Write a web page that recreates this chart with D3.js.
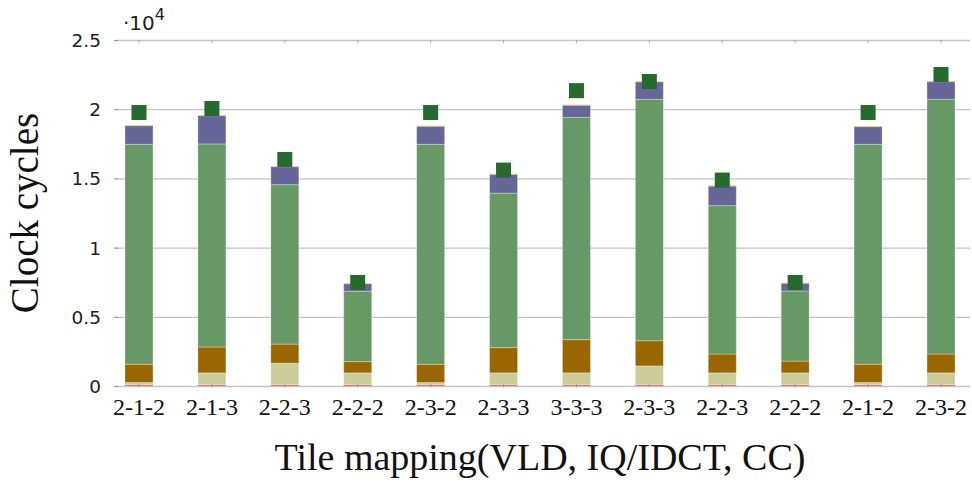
<!DOCTYPE html>
<html>
<head>
<meta charset="utf-8">
<script src="https://cdn.jsdelivr.net/npm/d3@7"></script>
<style>
  html, body { margin: 0; padding: 0; background: #fff; }
  svg { display: block; }
</style>
</head>
<body>
<svg id="chart" width="972" height="482"></svg>
<script>
// ---- data (clock cycles) ----
const categories = ["2-1-2","2-1-3","2-2-3","2-2-2","2-3-2","2-3-3","3-3-3","2-3-3","2-2-3","2-2-2","2-1-2","2-3-2"];
const seriesRed    = [100,100,100,100,100,100,100,100,100,100,100,100];
const seriesKhaki  = [150,850,1550,850,150,850,850,1350,850,850,150,850];
const seriesBrown  = [1320,1870,1380,810,1320,1820,2400,1820,1360,850,1320,1360];
const seriesGreen  = [15890,14670,11515,5090,15890,11165,16060,17445,10720,5065,15890,18405];
const seriesPurple = [1340,2040,1295,530,1300,1355,870,1250,1410,555,1275,1272];
const seriesYellow = [50,50,50,50,50,50,50,50,50,50,50,50];
const markerValues = [19760,20050,16370,7480,19760,15600,21340,22000,14880,7480,19760,22510];
const yTicks = [0, 5000, 10000, 15000, 20000, 25000];
const yTickLabels = ["0","0.5","1","1.5","2","2.5"];

const stackSeries = [
  {name:"red",    values:seriesRed,    color:"#d77a6c"},
  {name:"khaki",  values:seriesKhaki,  color:"#cccc99"},
  {name:"brown",  values:seriesBrown,  color:"#996600"},
  {name:"green",  values:seriesGreen,  color:"#669966"},
  {name:"purple", values:seriesPurple, color:"#666699"},
  {name:"yellow", values:seriesYellow, color:"#eccc55"}
];

// ---- layout ----
const svg = d3.select("#chart");
const plotLeft = 114, plotRight = 970, plotTop = 40, plotBottom = 386;

const idx = categories.map((d,i) => i);
const x = d3.scalePoint().domain(idx).range([139, 941]);
const y = d3.scaleLinear().domain([0, 25000]).range([plotBottom, plotTop]);
const barW = 28;

// grid lines
svg.append("g").selectAll("line").data(yTicks).join("line")
  .attr("x1", plotLeft).attr("x2", plotRight)
  .attr("y1", d => y(d) + 0.5).attr("y2", d => y(d) + 0.5)
  .attr("stroke", "#c4c4c4").attr("stroke-width", 1.3);

// y tick marks
svg.append("g").selectAll("line").data(yTicks).join("line")
  .attr("x1", plotLeft).attr("x2", plotLeft + 4)
  .attr("y1", d => y(d) + 0.5).attr("y2", d => y(d) + 0.5)
  .attr("stroke", "#999").attr("stroke-width", 1);

// x tick marks (top)
svg.append("g").selectAll("line").data(idx).join("line")
  .attr("x1", d => x(d)).attr("x2", d => x(d))
  .attr("y1", plotTop).attr("y2", plotTop + 3)
  .attr("stroke", "#aaa");

// stacked bars
const rows = idx.map(i => {
  const o = {i};
  stackSeries.forEach(s => o[s.name] = s.values[i]);
  return o;
});
const stack = d3.stack().keys(stackSeries.map(s => s.name));
const stacked = stack(rows);

stacked.forEach((layer, li) => {
  svg.append("g").selectAll("rect").data(layer).join("rect")
    .attr("x", d => x(d.data.i) - barW/2)
    .attr("width", barW)
    .attr("y", d => y(d[1]))
    .attr("height", d => Math.max(0, y(d[0]) - y(d[1])))
    .attr("fill", stackSeries[li].color)
    .attr("stroke", (stackSeries[li].name === "yellow" || stackSeries[li].name === "red") ? "none" : "rgba(255,255,255,0.3)")
    .attr("stroke-width", 1);
});

// markers
const ms = 15;
svg.append("g").selectAll("rect").data(idx).join("rect")
  .attr("x", i => x(i) - ms/2)
  .attr("y", i => y(markerValues[i]) - ms/2)
  .attr("width", ms).attr("height", ms)
  .attr("fill", "#266a2e");

// bottom x tick marks
svg.append("g").selectAll("line").data(idx).join("line")
  .attr("x1", d => x(d)).attr("x2", d => x(d))
  .attr("y1", plotBottom - 2).attr("y2", plotBottom + 1)
  .attr("stroke", "#999");

// y tick labels
svg.append("g").selectAll("text").data(yTicks).join("text")
  .attr("x", 101).attr("y", d => y(d) + 7)
  .attr("text-anchor", "end")
  .attr("font-family", "'DejaVu Sans', sans-serif")
  .attr("font-size", 18.5).attr("fill", "#222")
  .text((d,i) => yTickLabels[i]);

// exponent
const ex = svg.append("text")
  .attr("x", 123).attr("y", 30)
  .attr("font-family", "'DejaVu Sans', sans-serif")
  .attr("font-size", 20).attr("fill", "#222");
ex.append("tspan").text("·10");
ex.append("tspan").attr("dy", -10).attr("font-size", 16).text("4");

// x tick labels
svg.append("g").selectAll("text").data(idx).join("text")
  .attr("x", i => x(i)).attr("y", 415)
  .attr("text-anchor", "middle")
  .attr("font-family", "'Liberation Serif', serif")
  .style("font-variant-numeric", "oldstyle-nums")
  .attr("font-size", 24).attr("fill", "#111")
  .text(i => categories[i]);

// axis titles
svg.append("text")
  .attr("transform", "translate(38,213) rotate(-90)")
  .attr("text-anchor", "middle")
  .attr("font-family", "'Liberation Serif', serif")
  .attr("font-size", 39).attr("fill", "#111")
  .text("Clock cycles");

svg.append("text")
  .attr("x", 540).attr("y", 470)
  .attr("text-anchor", "middle")
  .attr("font-family", "'Liberation Serif', serif")
  .attr("font-size", 38).attr("fill", "#111")
  .text("Tile mapping(VLD, IQ/IDCT, CC)");
</script>
</body>
</html>
